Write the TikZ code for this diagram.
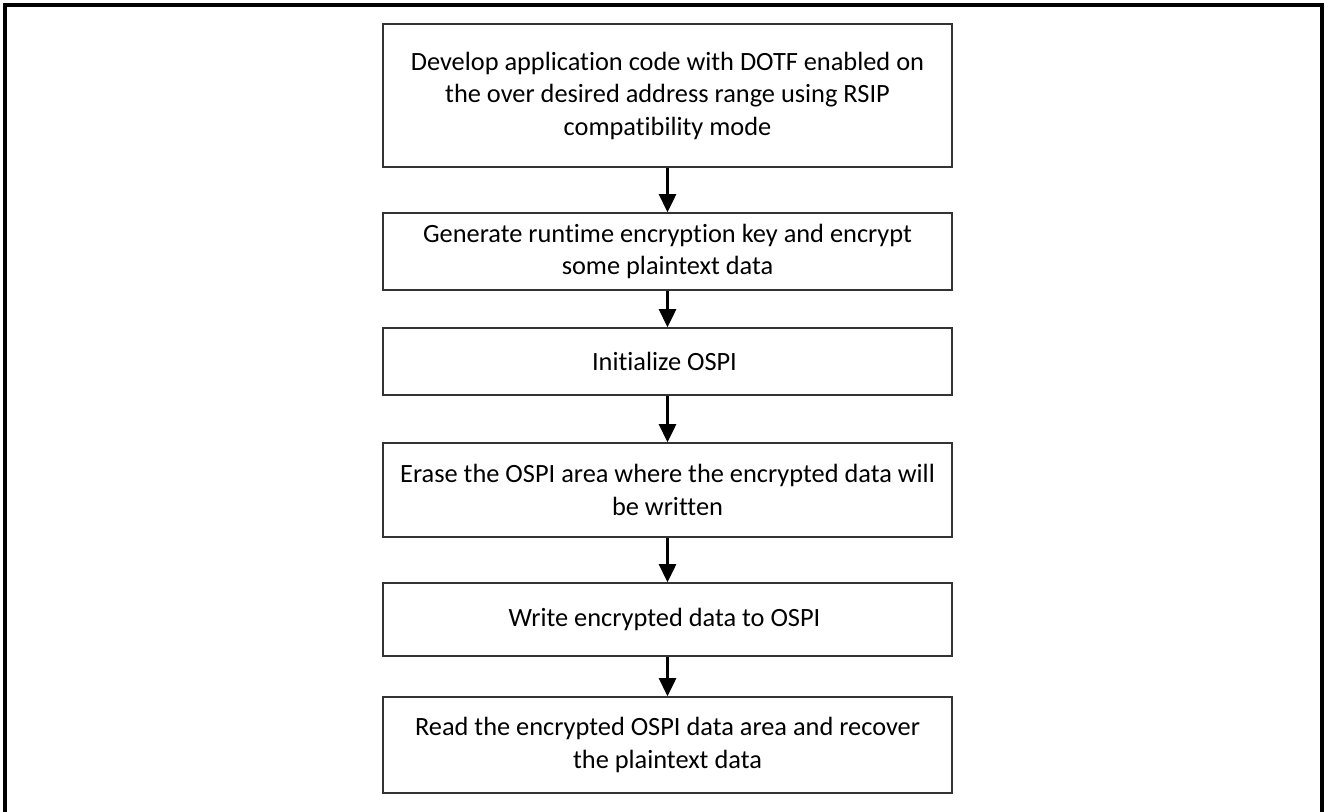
\documentclass[tikz,border=0pt]{standalone}
\usepackage{fontspec}
\setmainfont{Carlito}[Ligatures=NoCommon]
\usetikzlibrary{arrows.meta}

\begin{document}
\begin{tikzpicture}
    % --- Dimensions ---
    \def\PicW{26.56}      % picture width
    \def\PicH{16.22}      % picture height
    \def\FrameIn{0.1}     % inset of the outer frame
    \def\StepX{13.35}     % x of the column of steps
    \def\StepW{11.38}     % width of every step box

    % --- Styles ---
    \tikzset{
        frame line/.style={line width=1.9pt, black},
        step box/.style={
            draw=black!80,
            line width=0.9pt,
            fill=white,
            minimum width=\StepW cm,
            inner sep=0pt,
            align=center,
            font=\fontsize{15}{18.5}\selectfont
        },
        flow arrow/.style={
            line width=1.5pt,
            -{Triangle[width=0.34cm,length=0.36cm]}
        }
    }

    % Fixed page size
    \useasboundingbox (0,0) rectangle (\PicW,-\PicH);

    % =========================================================
    % 1) OUTER FRAME (open at the bottom)
    % =========================================================
    \draw[frame line]
      (\FrameIn,-\PicH-0.2) -- (\FrameIn,-\FrameIn)
      -- (\PicW-\FrameIn-0.02,-\FrameIn) -- (\PicW-\FrameIn-0.02,-\PicH-0.2);

    % =========================================================
    % 2) STEPS
    % =========================================================
    \node[step box, minimum height=2.86cm] (develop) at (\StepX,-1.91) {
        Develop application code with DOTF enabled on\\
        the over desired address range using RSIP\\
        compatibility mode
    };
    \node[step box, minimum height=1.54cm] (genkey) at (\StepX,-5.03) {
        Generate runtime encryption key and encrypt\\
        some plaintext data
    };
    \node[step box, minimum height=1.34cm] (initospi) at (\StepX,-7.23) {
        Initialize OSPI
    };
    \node[step box, minimum height=1.88cm] (erase) at (\StepX,-9.80) {
        Erase the OSPI area where the encrypted data will\\
        be written
    };
    \node[step box, minimum height=1.46cm] (write) at (\StepX,-12.39) {
        Write encrypted data to OSPI
    };
    \node[step box, minimum height=1.92cm] (readback) at (\StepX,-14.90) {
        Read the encrypted OSPI data area and recover\\
        the plaintext data
    };

    % =========================================================
    % 3) ARROWS
    % =========================================================
    \draw[flow arrow] (develop.south) -- (genkey.north);
    \draw[flow arrow] (genkey.south) -- (initospi.north);
    \draw[flow arrow] (initospi.south) -- (erase.north);
    \draw[flow arrow] (erase.south) -- (write.north);
    \draw[flow arrow] (write.south) -- (readback.north);

\end{tikzpicture}
\end{document}
